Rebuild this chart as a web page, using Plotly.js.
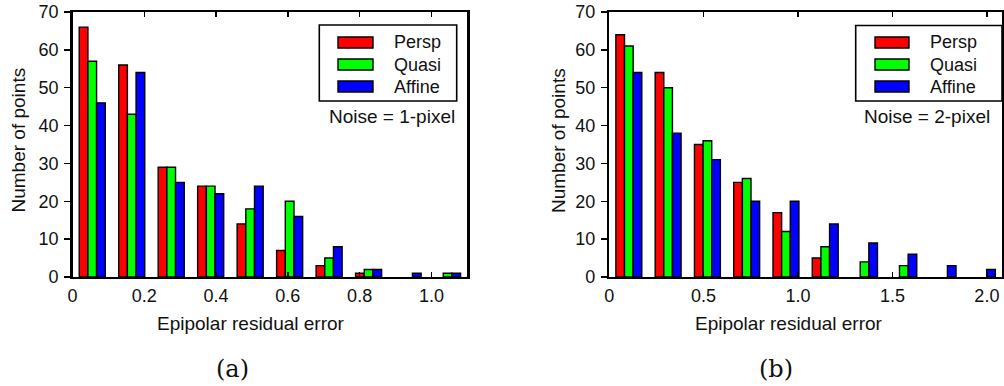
<!DOCTYPE html>
<html>
<head>
<meta charset="utf-8">
<script src="https://cdn.plot.ly/plotly-3.0.1.min.js"></script>
<style>
  html, body { margin: 0; padding: 0; background: #fff; }
  #chart { width: 1004px; height: 386px; }
</style>
</head>
<body>
<div id="chart"></div>
<script>
// Histogram of epipolar residual errors for three camera models, two noise levels.
const seriesNames = ['Persp', 'Quasi', 'Affine'];
const seriesColors = ['#ff0000', '#00ff00', '#0000ff'];

// (a) noise = 1 pixel
const binCentersA = [0.055, 0.165, 0.275, 0.385, 0.495, 0.605, 0.715, 0.825, 0.935, 1.045];
const perspA  = [66, 56, 29, 24, 14, 7, 3, 1, 0, 0];
const quasiA  = [57, 43, 29, 24, 18, 20, 5, 2, 0, 1];
const affineA = [46, 54, 25, 22, 24, 16, 8, 2, 1, 1];

// (b) noise = 2 pixels
const binCentersB = [0.104, 0.312, 0.52, 0.728, 0.936, 1.144, 1.352, 1.56, 1.768, 1.976];
const perspB  = [64, 54, 35, 25, 17, 5, 0, 0, 0, 0];
const quasiB  = [61, 50, 36, 26, 12, 8, 4, 3, 0, 0];
const affineB = [54, 38, 31, 20, 20, 14, 9, 6, 3, 2];

const xTickValsA = [0, 0.2, 0.4, 0.6, 0.8, 1.0];
const xTickTextA = ['0', '0.2', '0.4', '0.6', '0.8', '1.0'];
const xTickValsB = [0, 0.5, 1.0, 1.5, 2.0];
const xTickTextB = ['0', '0.5', '1.0', '1.5', '2.0'];
const yTickVals = [0, 10, 20, 30, 40, 50, 60, 70];

const noiseLabels = ['Noise = 1-pixel', 'Noise = 2-pixel'];
const panelLabels = ['(a)', '(b)'];
const xTitle = 'Epipolar residual error';
const yTitle = 'Number of points';

const W = 1004, H = 386;
const px = x => x / W;
const py = y => 1 - y / H;

const FONT = 'Liberation Sans, Arial, Helvetica, sans-serif';

const seriesA = [perspA, quasiA, affineA];
const seriesB = [perspB, quasiB, affineB];

// empty bins get no outline, so nothing shows on the baseline
const outline = vals => ({ color: '#000', width: vals.map(v => (v > 0 ? 1.4 : 0)) });

const traces = [];
seriesNames.forEach((name, i) => {
  traces.push({
    type: 'bar', name: name, x: binCentersA, y: seriesA[i],
    xaxis: 'x', yaxis: 'y', showlegend: false,
    marker: { color: seriesColors[i], line: outline(seriesA[i]) }
  });
});
seriesNames.forEach((name, i) => {
  traces.push({
    type: 'bar', name: name, x: binCentersB, y: seriesB[i],
    xaxis: 'x2', yaxis: 'y2', showlegend: false,
    marker: { color: seriesColors[i], line: outline(seriesB[i]) }
  });
});

// panel frames in pixels: [left, right], [top, bottom]
const frames = [
  { x0: 72.5, x1: 467.3, y0: 12, y1: 277 },
  { x0: 609.2, x1: 1002, y0: 12, y1: 277 }
];

function xAxis(frame, range, vals, text, anchor) {
  return {
    domain: [px(frame.x0), px(frame.x1)], range: range, anchor: anchor,
    tickmode: 'array', tickvals: vals, ticktext: text,
    ticks: 'inside', ticklen: 5, tickwidth: 1.3, tickcolor: '#000',
    showline: true, linewidth: 2.4, linecolor: '#000', mirror: 'ticks',
    showgrid: false, zeroline: false, ticklabelstandoff: 1,
    tickfont: { family: FONT, size: 18, color: '#111' }
  };
}
function yAxis(frame, anchor) {
  return {
    domain: [py(frame.y1), py(frame.y0)], range: [0, 70], anchor: anchor,
    tickmode: 'array', tickvals: yTickVals,
    ticks: 'outside', ticklen: 6, tickwidth: 1.3, tickcolor: '#000',
    showline: true, linewidth: 2.4, linecolor: '#000', mirror: true,
    showgrid: false, zeroline: false, ticklabelstandoff: 2,
    tickfont: { family: FONT, size: 18, color: '#111' }
  };
}
function yRight(frame, anchor, over) {
  return {
    domain: [py(frame.y1), py(frame.y0)], range: [0, 70], anchor: anchor,
    overlaying: over, side: 'right',
    tickmode: 'array', tickvals: yTickVals, showticklabels: false,
    ticks: 'inside', ticklen: 5, tickwidth: 1.3, tickcolor: '#000',
    showline: false, showgrid: false, zeroline: false
  };
}

const annotations = [];
const shapes = [];
function text(t, x, y, opts) {
  annotations.push(Object.assign({
    text: t, x: px(x), y: py(y), xref: 'paper', yref: 'paper',
    xanchor: 'center', yanchor: 'middle', showarrow: false,
    font: { family: FONT, size: 19, color: '#111' }
  }, opts || {}));
}

// axis titles and panel captions
text(xTitle, 250.5, 323.5);
text(xTitle, 788.5, 323.5);
text(yTitle, 18.5, 140, { textangle: -90 });
text(yTitle, 558.5, 140.5, { textangle: -90 });
text(panelLabels[0], 232, 369, { font: { family: 'DejaVu Serif, serif', size: 24, color: '#111' } });
text(panelLabels[1], 776, 369, { font: { family: 'DejaVu Serif, serif', size: 24, color: '#111' } });
text(noiseLabels[0], 457, 116.7, { xanchor: 'right' });
text(noiseLabels[1], 992, 116.7, { xanchor: 'right' });

// legend boxes
const legends = [
  { box: [319.3, 456.7, 25, 101], sw: [338, 373], tx: 392 },
  { box: [855.7, 1002, 25.5, 101], sw: [875, 909], tx: 928 }
];
const rowY = [42.5, 64.5, 86.5];
legends.forEach(lg => {
  shapes.push({
    type: 'rect', xref: 'paper', yref: 'paper',
    x0: px(lg.box[0]), x1: px(lg.box[1]), y0: py(lg.box[3]), y1: py(lg.box[2]),
    line: { color: '#000', width: 1.6 }, fillcolor: '#fff', layer: 'above'
  });
  seriesNames.forEach((name, i) => {
    shapes.push({
      type: 'rect', xref: 'paper', yref: 'paper',
      x0: px(lg.sw[0]), x1: px(lg.sw[1]), y0: py(rowY[i] + 5.5), y1: py(rowY[i] - 5.5),
      line: { color: '#000', width: 1.4 }, fillcolor: seriesColors[i], layer: 'above'
    });
    text(name, lg.tx, rowY[i], { xanchor: 'left', font: { family: FONT, size: 18, color: '#111' } });
  });
});

const layout = {
  width: W, height: H,
  margin: { l: 0, r: 0, t: 0, b: 0 },
  paper_bgcolor: '#fff', plot_bgcolor: '#fff',
  barmode: 'group', bargap: 0.34, bargroupgap: 0,
  showlegend: false,
  xaxis: xAxis(frames[0], [0, 1.1], xTickValsA, xTickTextA, 'y'),
  yaxis: yAxis(frames[0], 'x'),
  xaxis2: xAxis(frames[1], [0, 2.08], xTickValsB, xTickTextB, 'y2'),
  yaxis2: yAxis(frames[1], 'x2'),
  yaxis3: yRight(frames[0], 'x', 'y'),
  yaxis4: yRight(frames[1], 'x2', 'y2'),
  annotations: annotations,
  shapes: shapes
};

Plotly.newPlot('chart', traces, layout, { staticPlot: true, displayModeBar: false });
</script>
</body>
</html>
